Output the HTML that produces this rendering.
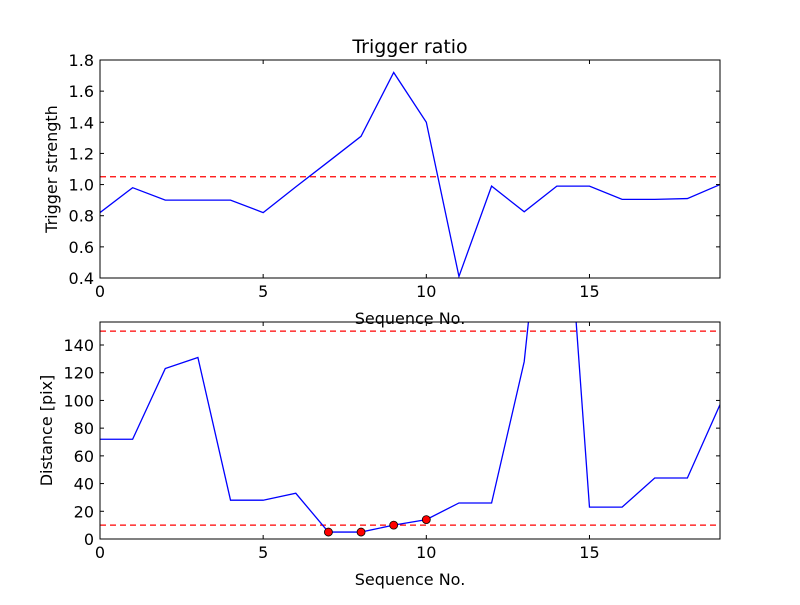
<!DOCTYPE html>
<html><head><meta charset="utf-8"><style>
body{margin:0;background:#fff}
text{font-family:"DejaVu Sans","Liberation Sans",sans-serif;fill:#000}
</style></head><body>
<svg id="chart" width="800" height="600" xmlns="http://www.w3.org/2000/svg"></svg>
<script>
const seq = [0,1,2,3,4,5,6,7,8,9,10,11,12,13,14,15,16,17,18,19];
const ratio = [0.82,0.98,0.90,0.90,0.90,0.82,0.985,1.147,1.31,1.72,1.40,0.41,0.99,0.825,0.99,0.99,0.905,0.905,0.91,1.0];
const ratioThreshold = [1.05];
const dist = [72,72,123,131,28,28,33,5,5,10,14,26,26,128,350,23,23,44,44,97];
const distThresholds = [150,10];
const markIdx = [7,8,9,10];
const xTicks = [0,5,10,15];
const yTicksTop = [0.4,0.6,0.8,1.0,1.2,1.4,1.6,1.8];
const yTicksBot = [0,20,40,60,80,100,120,140];

const NS="http://www.w3.org/2000/svg";
const svg=document.getElementById('chart');
function mk(t,a,p){const e=document.createElementNS(NS,t);for(const k in a)e.setAttribute(k,a[k]);(p||svg).appendChild(e);return e;}

function panel(o){
  const g=mk('g',{});
  
  
  const L=100,R=720,T=o.top,B=o.bottom;
  const sx=v=>L+(v-0)/(19-0)*(R-L);
  const sy=v=>B-(v-o.ymin)/(o.ymax-o.ymin)*(B-T);
  const cid='clip-'+o.name;
  const cp=mk('clipPath',{id:cid},g);mk('rect',{x:L,y:T,width:R-L,height:B-T},cp);
  o.hlines.forEach(h=>{
    const l=mk('line',{x1:L,x2:R,y1:sy(h),y2:sy(h),stroke:'#ff0000','stroke-width':1.2,'stroke-dasharray':'6,4','clip-path':`url(#${cid})`},g);
    
    
  });
  const pts=o.x.map((x,i)=>sx(x)+','+sy(o.y[i])).join(' ');
  const pl=mk('polyline',{points:pts,fill:'none',stroke:'#0000ff','stroke-width':1.3,'clip-path':`url(#${cid})`},g);
  
  
  (o.marks||[]).forEach(i=>{
    const c=mk('circle',{cx:sx(o.x[i]),cy:sy(o.y[i]),r:4,fill:'#ff0000',stroke:'#000','stroke-width':0.8},g);
    
    
  });
  const fr=mk('rect',{x:L,y:T,width:R-L,height:B-T,fill:'none',stroke:'#000','stroke-width':1},g);
  
  
  xTicks.forEach(t=>{
    const x=sx(t);
    mk('line',{x1:x,x2:x,y1:B,y2:B-4,stroke:'#000'},g);
    mk('line',{x1:x,x2:x,y1:T,y2:T+4,stroke:'#000'},g);
    const tx=mk('text',{x:x,y:B+19,'text-anchor':'middle','font-size':16},g);
    tx.textContent=t;
    
    
  });
  o.yticks.forEach(t=>{
    const y=sy(t);
    mk('line',{x1:L,x2:L+4,y1:y,y2:y,stroke:'#000'},g);
    mk('line',{x1:R,x2:R-4,y1:y,y2:y,stroke:'#000'},g);
    const tx=mk('text',{x:L-6,y:y+6,'text-anchor':'end','font-size':16},g);
    tx.textContent=o.fmt(t);
    
    
  });
  const xl=mk('text',{x:410,y:B+46,'text-anchor':'middle','font-size':16},g);
  xl.textContent='Sequence No.';
  
  
  const cy=(T+B)/2;
  const yl=mk('text',{x:o.ylx,y:cy,'text-anchor':'middle','font-size':16,transform:`rotate(-90 ${o.ylx} ${cy})`},g);
  yl.textContent=o.ylabel;
  
  
}
panel({name:'trigger-ratio-panel',top:60,bottom:278,ymin:0.4,ymax:1.8,x:seq,y:ratio,hlines:ratioThreshold,yticks:yTicksTop,fmt:v=>v.toFixed(1),ylabel:'Trigger strength',ylx:57});
panel({name:'distance-panel',top:322,bottom:539,ymin:0,ymax:156.6,x:seq,y:dist,hlines:distThresholds,yticks:yTicksBot,fmt:v=>String(v),ylabel:'Distance [pix]',ylx:52,marks:markIdx});
const title=mk('text',{x:410,y:53,'text-anchor':'middle','font-size':19});
title.textContent='Trigger ratio';


</script>
</body></html>
